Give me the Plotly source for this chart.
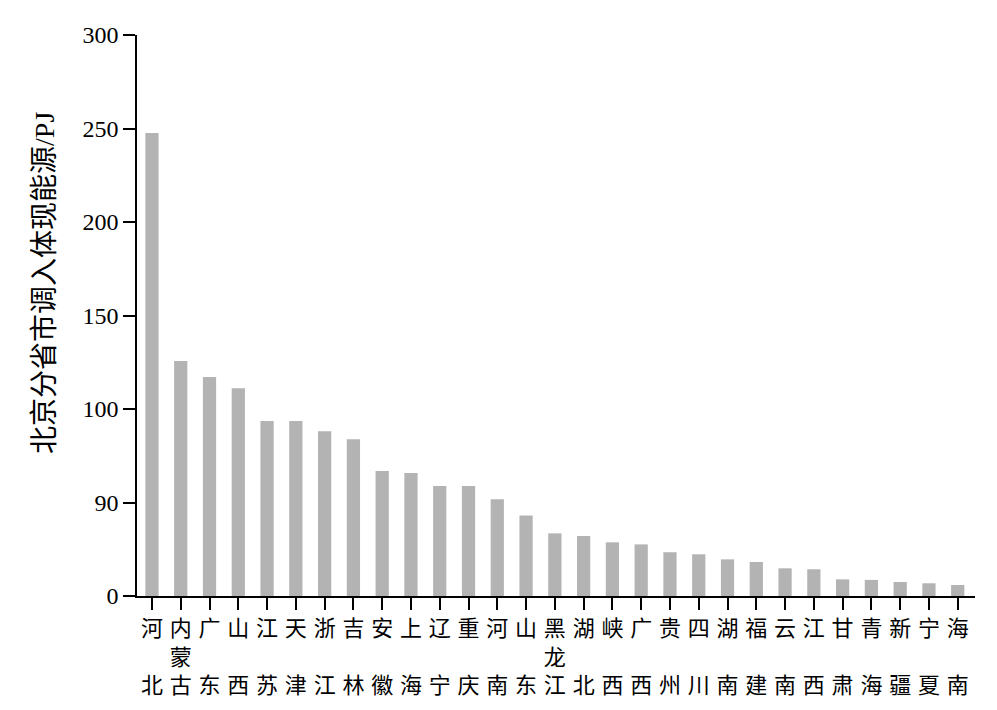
import plotly.graph_objects as go

provinces = ["河北", "内蒙古", "广东", "山西", "江苏", "天津", "浙江", "吉林", "安徽", "上海",
             "辽宁", "重庆", "河南", "山东", "黑龙江", "湖北", "峡西", "广西", "贵州", "四川",
             "湖南", "福建", "云南", "江西", "甘肃", "青海", "新疆", "宁夏", "海南"]
values = [247.6, 125.7, 117.1, 111.1, 93.6, 93.6, 88.1, 83.8, 66.8, 65.8,
          58.8, 58.8, 51.7, 43.1, 33.5, 32.1, 28.7, 27.6, 23.4, 22.3,
          19.6, 18.2, 14.8, 14.3, 8.9, 8.6, 7.5, 6.8, 5.9]
y_tickvals = [0, 50, 100, 150, 200, 250, 300]
y_ticktext = ["0", "90", "100", "150", "200", "250", "300"]
y_title = "北京分省市调入体现能源/PJ"


def stack_label(name):
    if len(name) == 2:
        return name[0] + "<br> <br>" + name[1]
    return "<br>".join(name)


x_ticktext = [stack_label(p) for p in provinces]

FONT = "Liberation Serif, Times New Roman, Noto Sans CJK SC"

fig = go.Figure(
    go.Bar(
        x=provinces,
        y=values,
        marker=dict(color="#b3b3b3", line=dict(width=0)),
    )
)

fig.update_layout(
    width=997,
    height=710,
    margin=dict(l=129, r=30, t=27, b=122, autoexpand=False),
    paper_bgcolor="white",
    plot_bgcolor="white",
    bargap=0.54,
    showlegend=False,
    font=dict(family=FONT, color="black"),
)

fig.update_xaxes(
    type="category",
    categoryorder="array",
    categoryarray=provinces,
    tickvals=provinces,
    ticktext=x_ticktext,
    tickfont=dict(family="Noto Sans CJK SC", size=22, color="black"),
    ticks="outside",
    ticklen=12,
    tickwidth=1.5,
    tickcolor="black",
    showline=True,
    linecolor="black",
    linewidth=1.5,
    showgrid=False,
    zeroline=False,
    range=[-0.52, 28.6],
    tickangle=0,
    automargin=False,
)

fig.update_yaxes(
    range=[0, 300],
    tickvals=y_tickvals,
    ticktext=y_ticktext,
    tickfont=dict(family="Liberation Serif", size=24, color="black"),
    ticks="outside",
    ticklen=12,
    tickwidth=1.5,
    tickcolor="black",
    showline=True,
    linecolor="black",
    linewidth=1.5,
    showgrid=False,
    zeroline=False,
    automargin=False,
)

fig.add_annotation(
    text=y_title,
    xref="paper", yref="paper",
    x=0, y=0.558,
    xanchor="center", yanchor="middle",
    xshift=-92,
    textangle=-90,
    showarrow=False,
    font=dict(family=FONT, size=28, color="black"),
)

fig.write_html("out.html")
